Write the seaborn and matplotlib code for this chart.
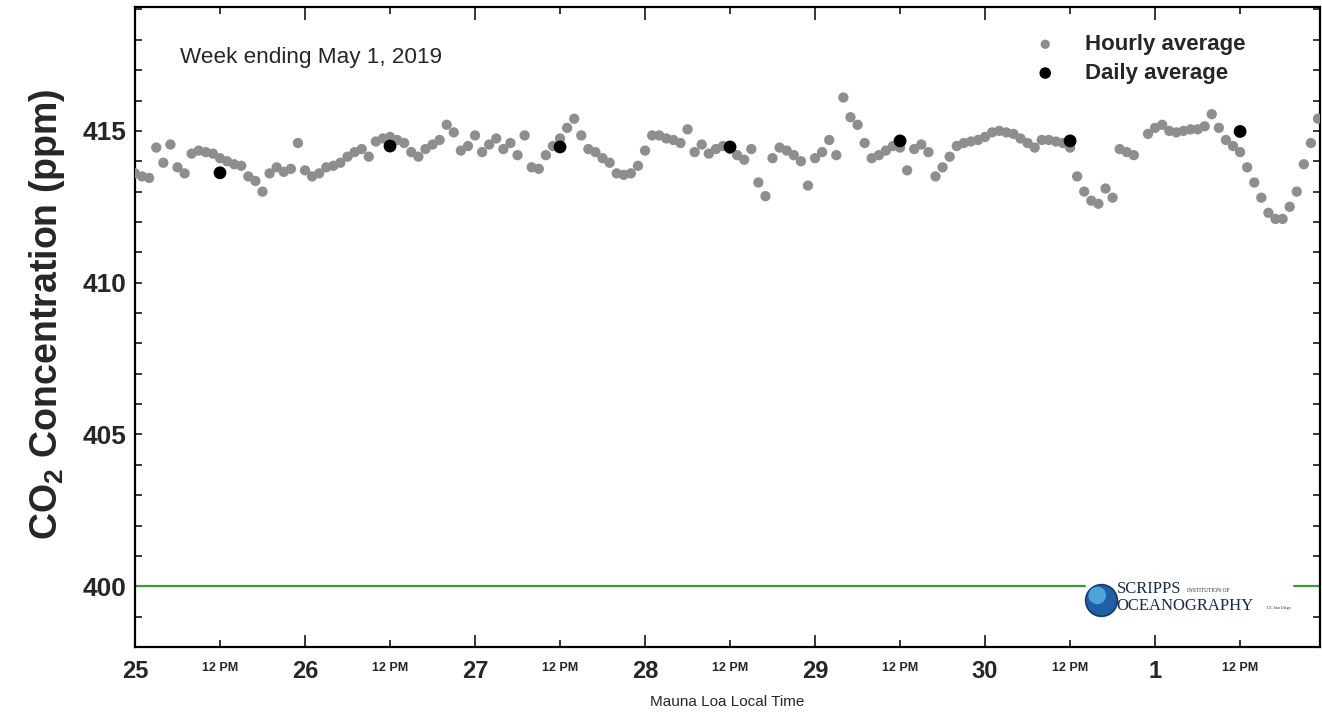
import numpy as np
import pandas as pd
import matplotlib
matplotlib.use("Agg")
import matplotlib.pyplot as plt
import seaborn as sns

# ---------------- data ----------------
day_labels = ["25", "26", "27", "28", "29", "30", "1"]
noon_label = "12 PM"

hourly_apr25 = [413.6, 413.5, 413.45, 414.45, 413.95, 414.55, 413.8, 413.6, 414.25, 414.35, 414.3, 414.25,
                414.1, 414.0, 413.9, 413.85, 413.5, 413.35, 413.0, 413.6, 413.8, 413.65, 413.75, 414.6]
hourly_apr26 = [413.7, 413.5, 413.6, 413.8, 413.85, 413.95, 414.15, 414.3, 414.4, 414.15, 414.65, 414.75,
                414.8, 414.7, 414.6, 414.3, 414.15, 414.4, 414.55, 414.7, 415.2, 414.95, 414.35, 414.5]
hourly_apr27 = [414.85, 414.3, 414.55, 414.75, 414.4, 414.6, 414.2, 414.85, 413.8, 413.75, 414.2, 414.5,
                414.75, 415.1, 415.4, 414.85, 414.4, 414.3, 414.1, 413.95, 413.6, 413.55, 413.6, 413.85]
hourly_apr28 = [414.35, 414.85, 414.85, 414.75, 414.7, 414.6, 415.05, 414.3, 414.55, 414.25, 414.4, 414.5,
                414.4, 414.2, 414.05, 414.4, 413.3, 412.85, 414.1, 414.45, 414.35, 414.2, 414.0, 413.2]
hourly_apr29 = [414.1, 414.3, 414.7, 414.2, 416.1, 415.45, 415.2, 414.6, 414.1, 414.2, 414.35, 414.5,
                414.45, 413.7, 414.4, 414.55, 414.3, 413.5, 413.8, 414.15, 414.5, 414.6, 414.65, 414.7]
hourly_apr30 = [414.8, 414.95, 415.0, 414.95, 414.9, 414.75, 414.6, 414.45, 414.7, 414.7, 414.65, 414.6,
                414.45, 413.5, 413.0, 412.7, 412.6, 413.1, 412.8, 414.4, 414.3, 414.2, np.nan, 414.9]
hourly_may01 = [415.1, 415.2, 415.0, 414.95, 415.0, 415.05, 415.05, 415.15, 415.55, 415.1, 414.7, 414.5,
                414.3, 413.8, 413.3, 412.8, 412.3, 412.1, 412.1, 412.5, 413.0, 413.9, 414.6, 415.4]

daily_avg = [413.62, 414.5, 414.47, 414.47, 414.67, 414.67, 414.98]

reference_level = 400

# ---------------- frames ----------------
hourly_all = [hourly_apr25, hourly_apr26, hourly_apr27, hourly_apr28,
              hourly_apr29, hourly_apr30, hourly_may01]
hx, hy = [], []
for d, vals in enumerate(hourly_all):
    for h, v in enumerate(vals):
        hx.append(d + h / 24.0)
        hy.append(v)
hourly_df = pd.DataFrame({"t": hx, "co2": hy}).dropna()
daily_df = pd.DataFrame({"t": np.arange(len(daily_avg)) + 0.5, "co2": daily_avg})

# ---------------- figure ----------------
sns.set_theme(style="white")
plt.rcParams["font.family"] = ["Liberation Sans", "DejaVu Sans"]

fig = plt.figure(figsize=(13.22, 7.13), dpi=100)
W, H = 1322, 713
ax = fig.add_axes([135 / W, (H - 647) / H, (1320 - 135) / W, (647 - 7) / H])

# reference line at 400 (interrupted by the logo)
ax.plot([0, 5.59], [reference_level, reference_level], color="#3a9a3a", lw=1.6, zorder=1)
ax.plot([6.82, 7.0], [reference_level, reference_level], color="#3a9a3a", lw=1.6, zorder=1)

sns.scatterplot(data=hourly_df, x="t", y="co2", ax=ax, color="#8e8e8e", s=55,
                edgecolor="none", label="Hourly average", zorder=3)
sns.scatterplot(data=daily_df, x="t", y="co2", ax=ax, color="black", s=85,
                edgecolor="none", label="Daily average", zorder=4)

ax.set_xlim(0, 6.97)
ax.set_ylim(398, 419.08)

# x ticks
ax.set_xticks(np.arange(7))
ax.set_xticklabels(day_labels)
ax.set_xticks(np.arange(7) + 0.5, minor=True)
ax.set_xticklabels([noon_label] * 7, minor=True)
# y ticks
ax.set_yticks([400, 405, 410, 415])
ax.set_yticks(np.arange(398, 420, 1), minor=True)

ax.tick_params(axis="x", which="major", direction="in", length=9, width=1.3,
               top=True, bottom=True, labelsize=17, pad=9)
ax.tick_params(axis="x", which="minor", direction="in", length=5, width=1.3,
               top=True, bottom=True, labelsize=9, pad=11)
ax.tick_params(axis="y", which="both", direction="in", length=5, width=1.3,
               left=True, right=True, labelsize=19, pad=6)
for lab in ax.get_xticklabels() + ax.get_yticklabels():
    lab.set_fontweight("bold")
for lab in ax.get_xticklabels(minor=True):
    lab.set_fontweight("bold")

for sp in ax.spines.values():
    sp.set_linewidth(1.6)
    sp.set_color("black")
    sp.set_visible(True)

ax.set_xlabel("Mauna Loa Local Time", fontsize=11, labelpad=9)
ax.set_ylabel("CO$\\mathregular{_2}$ Concentration (ppm)", fontsize=27,
              fontweight="bold")
ax.yaxis.set_label_coords(-0.057, 0.52)

ax.text(0.264, 417.43, "Week ending May 1, 2019", fontsize=16.2, va="center", ha="left")

leg = ax.legend(loc="upper left", bbox_to_anchor=(0.74, 0.975), frameon=False,
                prop={"weight": "bold", "size": 16}, handletextpad=0.8,
                labelspacing=0.35, borderpad=0, markerscale=0.9)

# Scripps logo (approximation)
ax.scatter([5.68], [399.55], s=520, color="#1f5fa8", edgecolor="#123a6b",
           linewidth=1.2, zorder=5)
ax.scatter([5.66], [399.7], s=160, color="#4fa3d9", edgecolor="none", zorder=6)
ax.text(5.775, 399.9, "SCRIPPS", family="Liberation Serif", fontsize=12,
        color="#1a2a4a", va="center", ha="left")
ax.text(6.19, 399.86, "INSTITUTION OF", family="Liberation Serif", fontsize=4,
        color="#1a2a4a", va="center", ha="left")
ax.text(5.775, 399.35, "OCEANOGRAPHY", family="Liberation Serif", fontsize=12,
        color="#1a2a4a", va="center", ha="left")
ax.text(6.66, 399.28, "UC San Diego", family="Liberation Serif", fontsize=3,
        color="#1a2a4a", va="center", ha="left")

fig.savefig("out.png", dpi=100)
